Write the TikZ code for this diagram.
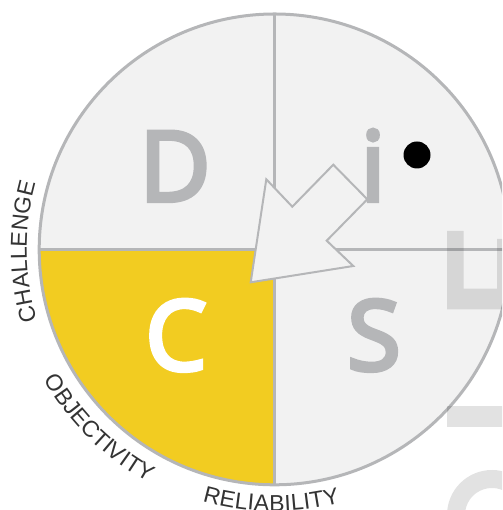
\documentclass[tikz,border=0pt]{standalone}
\usepackage{fontspec}
\usetikzlibrary{decorations.text,calc}
\setmainfont{Open Sans}
\newfontfamily\bigfont[FakeBold=4.5]{Open Sans}
\newfontfamily\lblfont{Liberation Sans}
\definecolor{ring}{HTML}{B5B6B8}
\definecolor{pale}{HTML}{F2F2F2}
\definecolor{sun}{HTML}{F2CC21}
\definecolor{ink}{HTML}{333333}
\tikzset{
  x=1pt,y=1pt,
  sector/.style={line width=3pt,draw=ring},
  bigletter/.style={inner sep=0pt,font=\bigfont\fontsize{97}{97}\selectfont,text=ring},
  ghost/.style={fill=black,opacity=.115},
  curved/.style={decorate,decoration={text along path,text align={fit to path},text color=ink,
     text={|\lblfont\fontsize{23}{23}\selectfont|#1}}},
  pointer/.style={fill=pale,draw=ring,line width=2pt,line join=miter}
}
\begin{document}
\begin{tikzpicture}
\useasboundingbox (0,0) rectangle (502,510);
\clip (0,0) rectangle (502,510);
\coordinate (o) at (274.6,260.6);
\fill[pale] (o) circle[radius=235.4];
\fill[sun] (o) -- ++(-235.4,0) arc[start angle=180,end angle=270,radius=235.4] -- cycle;
\draw[sector] (o) circle[radius=235.4];
\draw[sector] ($(o)+(0,235.4)$) -- ($(o)+(0,-235.4)$);
\draw[sector] ($(o)+(-235.4,0)$) -- ($(o)+(235.4,0)$);
\node[bigletter,anchor=base] (d) at (175,309) {D};
\node[bigletter,anchor=base] (i) at (373,309) {i};
\node[bigletter,anchor=base,text=white] (c) at (176,140) {C};
\node[bigletter,anchor=base] (s) at (374,140) {S};
\fill (417,355) circle[radius=13.5];
% cropped ghost shapes at the right edge
\fill[ghost] (447,279) -- (447,200.7) -- (510,200.7) -- (510,271) -- (497,271) -- (497,221.3) -- (463.7,221.3) -- (463.7,279) -- cycle;
\fill[ghost] (447,104) rectangle (510,83);
\draw[black,opacity=.115,line width=18pt] (492,-5) circle[radius=36];
% arrow
\draw[pointer] (250.7,227.7) -- (266.3,330.7) -- (292.3,303.3) -- (333.3,345.3) -- (367.3,310.7) -- (326.7,269.3) -- (353.3,244) -- cycle;
% labels
\path[curved=CHALLENGE] ($(o)+(196.6:248)$) arc[start angle=196.6,end angle=164.6,radius=248];
\path[curved=OBJECTIVITY] ($(o)+(209.5:265)$) arc[start angle=209.5,end angle=241.5,radius=265];
\path[curved=RELIABILITY] ($(o)+(254:262)$) arc[start angle=254,end angle=284.5,radius=262];
\end{tikzpicture}
\end{document}
